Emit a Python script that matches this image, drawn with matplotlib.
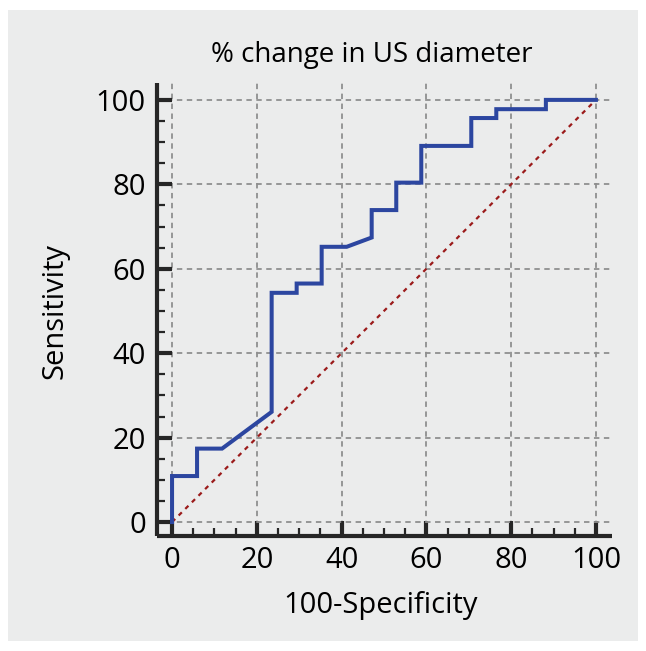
import matplotlib
matplotlib.use("Agg")
import matplotlib.pyplot as plt
from matplotlib.patches import Rectangle
from matplotlib.ticker import MultipleLocator

# ROC curve data (100-Specificity, Sensitivity)
fpr = [0, 0, 5.9, 5.9, 11.8, 23.5, 23.5, 29.4, 29.4, 35.3, 35.3, 41.2, 47.1, 47.1,
       52.9, 52.9, 58.8, 58.8, 70.6, 70.6, 76.5, 76.5, 88.2, 88.2, 100]
tpr = [0, 10.9, 10.9, 17.4, 17.4, 26.1, 54.3, 54.3, 56.5, 56.5, 65.2, 65.2, 67.4, 73.9,
       73.9, 80.4, 80.4, 89.1, 89.1, 95.7, 95.7, 97.8, 97.8, 100, 100]
diag_x = [0, 100]
diag_y = [0, 100]
ticks = [0, 20, 40, 60, 80, 100]
title = "% change in US diameter"
xlabel = "100-Specificity"
ylabel = "Sensitivity"

plt.rcParams['font.family'] = ['Open Sans', 'DejaVu Sans']
BG = "#ebecec"
DARK = "#262626"

fig = plt.figure(figsize=(6.46, 6.51), dpi=100)
fig.patch.set_facecolor("white")
fig.patches.append(Rectangle((8 / 646, 1 - 641 / 651), 630 / 646, 631 / 651,
                             transform=fig.transFigure, facecolor=BG,
                             edgecolor="none", zorder=-10))

ax = fig.add_axes([157 / 646, 1 - 536 / 651, (612 - 157) / 646, (536 - 83) / 651])
ax.set_facecolor(BG)
ax.set_xlim(-3.55, 103.8)
ax.set_ylim(-3.3, 104.0)

for s in ["top", "right"]:
    ax.spines[s].set_visible(False)
for s in ["left", "bottom"]:
    ax.spines[s].set_linewidth(3.0)
    ax.spines[s].set_color(DARK)
    ax.spines[s].set_capstyle("butt")

ax.set_xticks(ticks)
ax.set_yticks(ticks)
ax.xaxis.set_minor_locator(MultipleLocator(5))
ax.yaxis.set_minor_locator(MultipleLocator(5))
ax.tick_params(which="major", direction="in", length=10.5, width=3.0, color=DARK,
               labelsize=21, labelcolor="black", pad=7)
ax.tick_params(which="minor", direction="in", length=5.5, width=1.6, color=DARK)
ax.tick_params(axis="y", which="major", pad=8)

ax.grid(which="major", color="#8f8f8f", linestyle=(0, (3, 2.5)), linewidth=1.3)
ax.set_axisbelow(True)

ax.plot(diag_x, diag_y, color="#9b1b1b", linestyle=(0, (2, 2.2)), linewidth=1.6, zorder=3)
ax.plot(fpr, tpr, color="#2c46a0", linewidth=2.9, solid_joinstyle="miter", zorder=4)

fig.text(372 / 646, 1 - 55 / 651, title, ha="center", va="center", fontsize=20)
fig.text(381 / 646, 1 - 606 / 651, xlabel, ha="center", va="center", fontsize=21)
fig.text(55 / 646, 1 - 311 / 651, ylabel, ha="center", va="center", fontsize=21,
         rotation=90)

fig.savefig("out.png", dpi=100, facecolor=fig.get_facecolor())
